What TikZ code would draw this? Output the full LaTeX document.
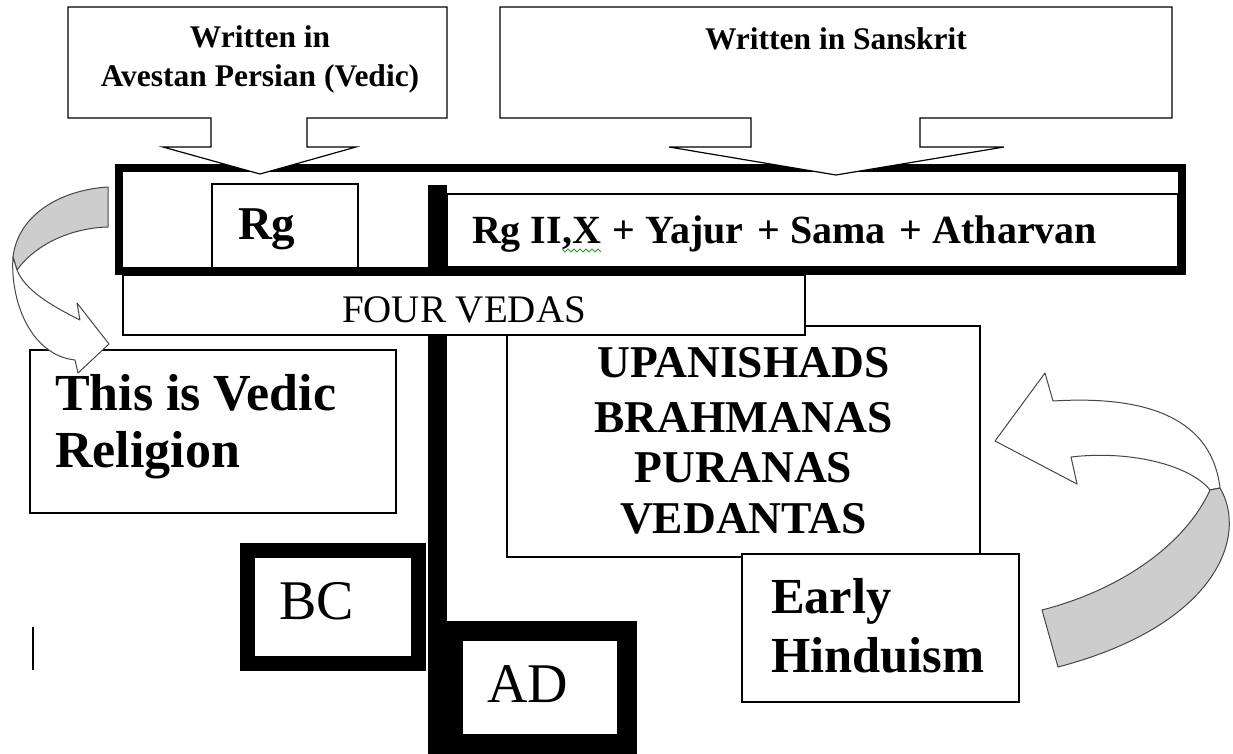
\documentclass[tikz,border=0pt]{standalone}
\usepackage{fontspec}
\setmainfont{Liberation Serif}
\definecolor{ribgray}{RGB}{205,205,205}
\definecolor{ribline}{RGB}{70,70,70}
\definecolor{spell}{RGB}{40,160,40}
\tikzset{
  box/.style={draw=black, line width=1.4pt, fill=white, inner sep=0pt, rectangle},
  thickbox/.style={draw=black, fill=white, inner sep=0pt, rectangle},
  callout/.style={draw=black, line width=1.2pt, fill=white, line join=miter},
  ribbon/.style={draw=ribline, line width=1pt, fill=white, line join=round},
  ribback/.style={draw=ribline, line width=1pt, fill=ribgray, line join=round},
  txt/.style={inner sep=0pt, outer sep=0pt},
}
\newcommand{\fsz}[1]{\fontsize{#1}{#1}\selectfont}
\begin{document}
\begin{tikzpicture}[x=1pt,y=-1pt]
\useasboundingbox (0,0) rectangle (1233,754);
\fill[white] (0,0) rectangle (1233,754);

% thick frame
\node[thickbox, line width=8pt, minimum width=1063pt, minimum height=103pt] (frame) at (650.5,219.5) {};
% Rg box
\node[box, minimum width=146pt, minimum height=84pt] (rgbox) at (285,226) {};
% inner box
\node[box, minimum width=731pt, minimum height=73pt] (later) at (812.5,230.5) {};
% timeline bar
\coordinate (tltop) at (437.5,185);
\coordinate (tlbot) at (437.5,754);
\draw[line width=19pt] (tltop) -- (tlbot);

% callouts
\path[callout] (68,7) -- (447,7) -- (447,118) -- (307,118) -- (307,147) -- (356,147)
  -- (260,174) -- (163,147) -- (211,147) -- (211,118) -- (68,118) -- cycle;
\path[callout] (500,7) -- (1172,7) -- (1172,118) -- (920,118) -- (920,147) -- (1004,147)
  -- (836,175) -- (669,147) -- (751,147) -- (751,118) -- (500,118) -- cycle;

% lower boxes
\node[box, minimum width=473pt, minimum height=231pt] (upa) at (743.5,441.5) {};
\node[box, minimum width=682pt, minimum height=60pt] (four) at (464,305) {};
\node[box, minimum width=277pt, minimum height=148pt] (early) at (880.5,628) {};
\node[box, minimum width=366pt, minimum height=163pt] (vedic) at (213,431.5) {};
\node[thickbox, line width=15pt, minimum width=170.5pt, minimum height=112.5pt] (bc) at (332.75,606.75) {};
\node[thickbox, line width=20pt, minimum width=174pt, minimum height=112.5pt] (ad) at (540,687.25) {};

% small mark
\coordinate (m1) at (33,627);
\coordinate (m2) at (33,670);
\draw[line width=2.5pt] (m1) -- (m2);

% texts
\node[txt, anchor=base, font=\fsz{31.5}\bfseries] (t1a) at (260,48) {Written in};
\node[txt, anchor=base, font=\fsz{31.5}\bfseries] (t1b) at (260,87) {Avestan Persian (Vedic)};
\node[txt, anchor=base, font=\fsz{31.5}\bfseries] (t2) at (836,50) {Written in Sanskrit};
\node[txt, anchor=base west, font=\fsz{47}\bfseries] (trg) at (238,239) {Rg};
\node[txt, anchor=base west, font=\fsz{40}\bfseries] (tlater) at (472,243) {Rg II,X\hspace{12pt}+ Yajur\hspace{14pt}+ Sama\hspace{14pt}+ Atharvan};
\draw[spell, line width=0.8pt] (562,249)--(565,252)--(568,249)--(571,252)--(574,249)--(577,252)--(580,249)--(583,252)--(586,249)--(589,252)--(592,249)--(595,252)--(598,249)--(601,252);
\node[txt, anchor=base, font=\fsz{39}] (tfour) at (464,322) {FOUR VEDAS};
\node[txt, anchor=base west, font=\fsz{52}\bfseries] (tv1) at (55,410) {This is Vedic};
\node[txt, anchor=base west, font=\fsz{52}\bfseries] (tv2) at (55,467) {Religion};
\node[txt, anchor=base, font=\fsz{45.5}\bfseries] (tu1) at (743.5,377) {UPANISHADS};
\node[txt, anchor=base, font=\fsz{45.5}\bfseries] (tu2) at (743.5,432) {BRAHMANAS};
\node[txt, anchor=base, font=\fsz{45.5}\bfseries] (tu3) at (743.5,482) {PURANAS};
\node[txt, anchor=base, font=\fsz{45.5}\bfseries] (tu4) at (743.5,533) {VEDANTAS};
\node[txt, anchor=base west, font=\fsz{50.5}\bfseries] (te1) at (771,613) {Early};
\node[txt, anchor=base west, font=\fsz{50.5}\bfseries] (te2) at (771,672) {Hinduism};
\node[txt, anchor=base west, font=\fsz{56}] (tbc) at (279,619) {BC};
\node[txt, anchor=base west, font=\fsz{56}] (tad) at (487,702) {AD};

% left curved arrow
\path[ribback] (108,187) .. controls (60,190) and (18,215) .. (13,257) -- (17,270)
  .. controls (35,245) and (70,228) .. (108,227) -- cycle;
\path[ribbon] (13,257) .. controls (10,300) and (30,355) .. (75,360) -- (78,373) -- (109,344)
  -- (77,303) -- (80,320) .. controls (50,305) and (25,290) .. (17,270) -- cycle;

% right curved arrow
\path[ribbon] (1220,488) .. controls (1212,420) and (1150,395) .. (1053,401) -- (1045,373)
  -- (995,441) -- (1077,484) -- (1071,457) .. controls (1130,450) and (1190,465) .. (1210,490) -- cycle;
\path[ribback] (1220,488) .. controls (1248,535) and (1218,625) .. (1058,667) -- (1042,610)
  .. controls (1120,590) and (1185,545) .. (1210,490) -- cycle;
\end{tikzpicture}
\end{document}
